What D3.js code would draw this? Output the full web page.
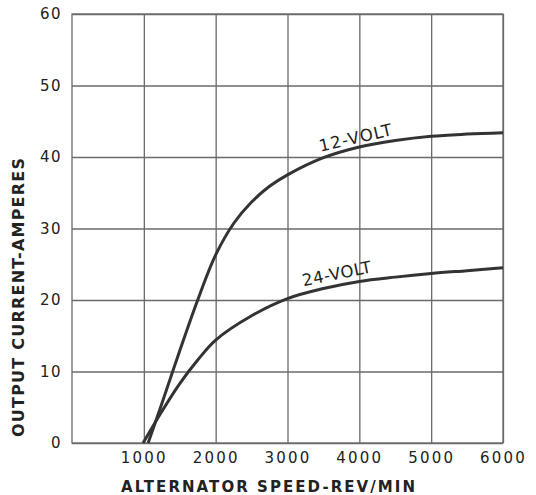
<!DOCTYPE html>
<html>
<head>
<meta charset="utf-8">
<script src="https://cdn.jsdelivr.net/npm/d3@7"></script>
<style>
  body { margin: 0; background: #fff; }
  svg text { font-family: "DejaVu Sans", sans-serif; fill: #222; }
</style>
</head>
<body>
<svg id="chart"></svg>
<script>
  // tick values
  const xTicks = [1000, 2000, 3000, 4000, 5000, 6000];
  const yTicks = [0, 10, 20, 30, 40, 50, 60];

  // 12-volt curve
  const rpm12 = [1060, 1250, 1500, 1750, 2000, 2250, 2500, 2750, 3000, 3500, 4000, 4500, 5000, 5500, 6000];
  const amps12 = [0, 5.5, 12.9, 20.0, 26.3, 30.7, 33.7, 35.9, 37.5, 39.9, 41.4, 42.3, 42.9, 43.2, 43.4];

  // 24-volt curve
  const rpm24 = [990, 1250, 1500, 1750, 2000, 2500, 3000, 3500, 4000, 4500, 5000, 5500, 6000];
  const amps24 = [0, 4.4, 8.3, 11.6, 14.4, 17.8, 20.2, 21.6, 22.6, 23.2, 23.7, 24.1, 24.5];

  const curveLabels = [
    { text: "12-VOLT", rpm: 3963, amps: 41.9, angle: -13, len: 74 },
    { text: "24-VOLT", rpm: 3700, amps: 22.9, angle: -11.5, len: 70 }
  ];

  const margin = { top: 14, right: 33, bottom: 52, left: 72 };
  const width = 536 - margin.left - margin.right;
  const height = 495 - margin.top - margin.bottom;

  const svg = d3.select("#chart")
    .attr("width", width + margin.left + margin.right)
    .attr("height", height + margin.top + margin.bottom);

  const g = svg.append("g").attr("transform", `translate(${margin.left},${margin.top})`);

  const xscale = d3.scaleLinear().domain([0, 6000]).range([0, width]);
  const yscale = d3.scaleLinear().domain([0, 60]).range([height, 0]);

  // horizontal grid + y labels
  const g_yaxis = g.append("g").attr("class", "y axis")
    .call(d3.axisLeft(yscale).tickValues(yTicks).tickSize(-width).tickPadding(10)
      .tickFormat(d3.format("d")));

  // vertical grid + x labels
  const g_xaxis = g.append("g").attr("class", "x axis")
    .attr("transform", `translate(0,${height})`)
    .call(d3.axisBottom(xscale).tickValues(xTicks).tickSize(-height).tickPadding(9)
      .tickFormat(d3.format("d")));

  [g_xaxis, g_yaxis].forEach((ax) => {
    ax.select(".domain").remove();
    ax.selectAll(".tick line").attr("stroke", "#6a6a6a").attr("stroke-width", 1.3);
    ax.selectAll(".tick text")
      .attr("fill", "#222")
      .style("font-size", "15px");
  });
  g_xaxis.selectAll(".tick text").style("letter-spacing", "2.2px");
  g_yaxis.selectAll(".tick text").style("letter-spacing", "1.4px");

  // frame
  g.append("rect")
    .attr("x", 0).attr("y", 0)
    .attr("width", width).attr("height", height)
    .attr("fill", "none")
    .attr("stroke", "#6a6a6a")
    .attr("stroke-width", 1.3);

  const line = d3.line()
    .x((d) => xscale(d[0]))
    .y((d) => yscale(d[1]))
    .curve(d3.curveCatmullRom.alpha(0.5));

  const series = [
    d3.zip(rpm12, amps12),
    d3.zip(rpm24, amps24)
  ];

  g.selectAll("path.curve")
    .data(series)
    .join("path")
    .attr("class", "curve")
    .attr("d", line)
    .attr("fill", "none")
    .attr("stroke", "#333")
    .attr("stroke-width", 3);

  g.selectAll("text.lbl")
    .data(curveLabels)
    .join("text")
    .attr("class", "lbl")
    .attr("text-anchor", "middle")
    .attr("transform", (d) => `translate(${xscale(d.rpm)},${yscale(d.amps)}) rotate(${d.angle})`)
    .attr("textLength", (d) => d.len)
    .attr("lengthAdjust", "spacing")
    .style("font-size", "16.5px")
    .text((d) => d.text);

  // axis titles
  svg.append("text")
    .attr("x", 121)
    .attr("y", 492)
    .attr("textLength", 294)
    .attr("lengthAdjust", "spacing")
    .style("font-size", "15px")
    .style("font-weight", "bold")
    .text("ALTERNATOR SPEED-REV/MIN");

  svg.append("text")
    .attr("transform", "translate(24,437) rotate(-90)")
    .attr("textLength", 279)
    .attr("lengthAdjust", "spacing")
    .style("font-size", "16px")
    .style("font-weight", "bold")
    .text("OUTPUT CURRENT-AMPERES");
</script>
</body>
</html>
